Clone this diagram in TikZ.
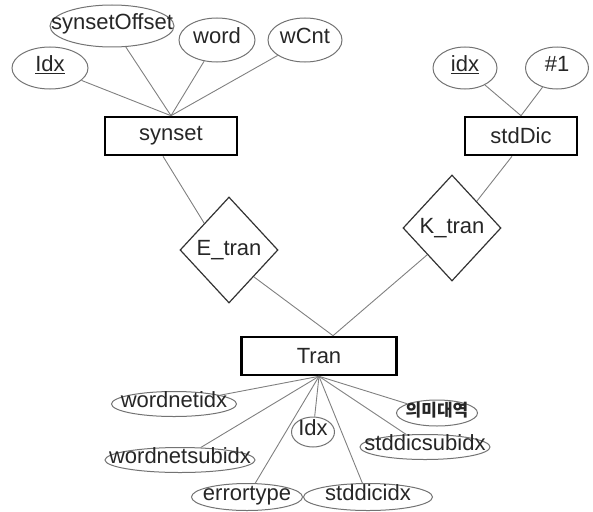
\documentclass[tikz,border=0pt]{standalone}
\usepackage{fontspec}
\setmainfont{Liberation Sans}
\newfontfamily\krfont{Noto Sans CJK KR}
\usetikzlibrary{shapes.geometric}

\begin{document}
\begin{tikzpicture}[x=1pt, y=-1pt, font=\fontsize{22}{26}\selectfont, text=black!85]
    % Block styles
    \tikzstyle{entity} = [rectangle, draw=black, line width=2.6pt, minimum height=38pt, inner sep=0pt]
    \tikzstyle{relation} = [diamond, draw=black!80, line width=1.2pt, minimum width=98pt, minimum height=106pt, inner sep=0pt]
    \tikzstyle{attr} = [ellipse, draw=black!55, line width=1pt, inner sep=0pt, text height=1.4ex, text depth=0pt]
    \tikzstyle{link} = [draw=black!50, line width=0.9pt]
    \useasboundingbox (0,0) rectangle (593,511);
    % Entities
    \node[entity, minimum width=132pt] (synset) at (171,136) {synset};
    \node[entity, minimum width=112pt] (stdDic) at (521,136) {stdDic};
    \node[entity, minimum width=155pt] (Tran) at (319,356) {Tran};
    % Relations
    \node[relation] (E_tran) at (229,250) {E\_tran};
    \node[relation] (K_tran) at (452,228) {K\_tran};
    % Attributes of synset
    \node[attr, minimum width=76pt, minimum height=42pt] (s_idx) at (50,68) {\makebox[0pt]{\underline{Idx}}};
    \node[attr, minimum width=124pt, minimum height=42pt] (s_offset) at (112,26) {\makebox[0pt]{synsetOffset}};
    \node[attr, minimum width=76pt, minimum height=44pt] (s_word) at (217,40) {\makebox[0pt]{word}};
    \node[attr, minimum width=74pt, minimum height=44pt] (s_wcnt) at (305,40) {\makebox[0pt]{wCnt}};
    % Attributes of stdDic
    \node[attr, minimum width=64pt, minimum height=42pt] (d_idx) at (465,68) {\makebox[0pt]{\underline{idx}}};
    \node[attr, minimum width=63pt, minimum height=42pt] (d_num) at (557,68) {\makebox[0pt]{\#1}};
    % Attributes of Tran
    \node[attr, minimum width=125pt, minimum height=25pt] (t_wnidx) at (174,404) {\makebox[0pt]{wordnetidx}};
    \node[attr, minimum width=81pt, minimum height=26pt] (t_mean) at (437,413) {\makebox[0pt]{\krfont\bfseries\fontsize{17}{19}\selectfont 의미대역}};
    \node[attr, minimum width=43pt, minimum height=30pt] (t_idx) at (313,432) {\makebox[0pt]{Idx}};
    \node[attr, minimum width=130pt, minimum height=25pt] (t_sdsub) at (425,447) {\makebox[0pt]{stddicsubidx}};
    \node[attr, minimum width=150pt, minimum height=25pt] (t_wnsub) at (180,460) {\makebox[0pt]{wordnetsubidx}};
    \node[attr, minimum width=111pt, minimum height=27pt] (t_err) at (247,497) {\makebox[0pt]{errortype}};
    \node[attr, minimum width=129pt, minimum height=27pt] (t_sdidx) at (368,497) {\makebox[0pt]{stddicidx}};
    % Connections
    \coordinate (Tran_top) at ([xshift=14pt]Tran.north);
    \draw[link] (s_idx) -- (synset.north);
    \draw[link] (s_offset) -- (synset.north);
    \draw[link] (s_word) -- (synset.north);
    \draw[link] (s_wcnt) -- (synset.north);
    \draw[link] (d_idx) -- (stdDic.north);
    \draw[link] (d_num) -- (stdDic.north);
    \draw[link] ([xshift=-8pt]synset.south) -- (E_tran.north west);
    \draw[link] (E_tran.south east) -- (Tran_top);
    \draw[link] ([xshift=-9pt]stdDic.south) -- (K_tran.north east);
    \draw[link] (K_tran.south west) -- (Tran_top);
    \draw[link] (Tran.south) -- (t_wnidx);
    \draw[link] (Tran.south) -- (t_mean);
    \draw[link] (Tran.south) -- (t_idx);
    \draw[link] (Tran.south) -- (t_sdsub);
    \draw[link] (Tran.south) -- (t_wnsub);
    \draw[link] (Tran.south) -- (t_err);
    \draw[link] (Tran.south) -- (t_sdidx);
\end{tikzpicture}
\end{document}
